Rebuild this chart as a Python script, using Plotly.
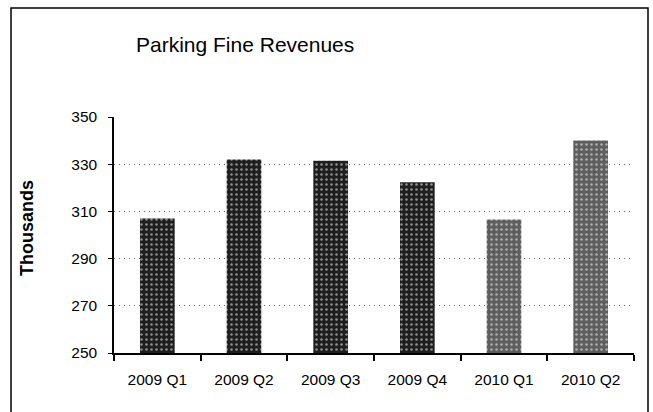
import plotly.graph_objects as go

# Quarterly parking fine revenues (thousands)
quarters = ["2009 Q1", "2009 Q2", "2009 Q3", "2009 Q4", "2010 Q1", "2010 Q2"]
revenues = [307, 332, 331.5, 322.3, 306.6, 340]
bar_colors = ["#1e1e1e", "#1e1e1e", "#1e1e1e", "#1e1e1e", "#5e5e5e", "#5e5e5e"]
y_ticks = [250, 270, 290, 310, 330, 350]

W, H = 653, 412
L, R, T, B = 114, 19, 117, 59

fig = go.Figure()
fig.add_trace(go.Bar(
    x=quarters,
    y=revenues,
    width=0.4,
    marker=dict(
        color=bar_colors,
        line=dict(width=0),
        pattern=dict(shape=".", fgcolor="#cfcfcf", size=5, solidity=0.2),
    ),
    hoverinfo="x+y",
))

fig.update_layout(
    width=W, height=H,
    margin=dict(l=L, r=R, t=T, b=B),
    paper_bgcolor="white",
    plot_bgcolor="white",
    showlegend=False,
    font=dict(family="Liberation Sans, Arial, sans-serif", color="black"),
)

fig.update_xaxes(
    type="category",
    showline=True, linecolor="black", linewidth=1.5,
    ticks="outside", tickson="boundaries", ticklen=6, tickcolor="black", tickwidth=1.5,
    tickfont=dict(size=15.5, color="black"),
    ticklabelstandoff=12,
    showgrid=False,
)
fig.update_yaxes(
    range=[250, 350],
    tickvals=y_ticks,
    showline=True, linecolor="black", linewidth=1.5,
    ticks="outside", ticklen=4, tickcolor="black",
    tickfont=dict(size=15.5, color="black"),
    ticklabelstandoff=8,
    showgrid=True, gridcolor="#707070", gridwidth=1, griddash="1px,4px",
    zeroline=False,
)

pw = W - L - R
ph = H - T - B

def px_x(x):
    return (x - L) / pw

def px_y(y):
    return (H - B - y) / ph

# Chart title
fig.add_annotation(
    text="Parking Fine Revenues",
    xref="paper", yref="paper",
    x=px_x(245), y=px_y(45),
    showarrow=False, xanchor="center", yanchor="middle",
    font=dict(size=21, color="black"),
)

# Vertical axis title
fig.add_annotation(
    text="<b>Thousands</b>",
    xref="paper", yref="paper",
    x=px_x(27), y=px_y(228),
    textangle=-90,
    showarrow=False, xanchor="center", yanchor="middle",
    font=dict(size=18, color="black"),
)

# Outer chart frame
fig.add_shape(
    type="rect", xref="paper", yref="paper",
    x0=px_x(11), x1=px_x(648), y0=px_y(430), y1=px_y(8),
    line=dict(color="black", width=1.5),
    fillcolor="rgba(0,0,0,0)",
    layer="below",
)

fig.write_html("out.html")
